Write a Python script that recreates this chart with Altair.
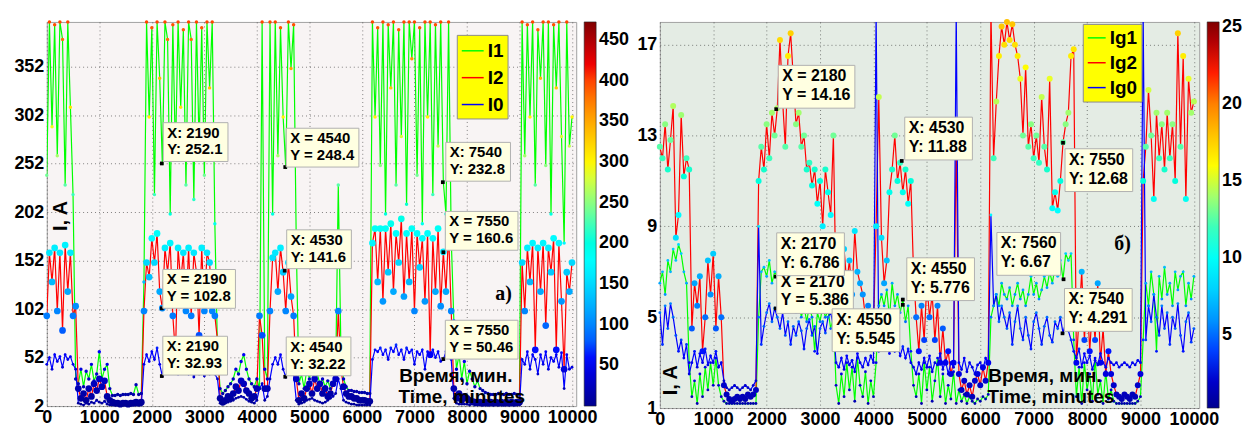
import altair as alt
import pandas as pd

# ---------------- data (time step 50 min) ----------------
MINUTES = list(range(0, 10001, 50))

# panel a)
I1 = [240, 398, 290, 395, 260, 398, 380, 230, 398, 310,
      220, 30, 25, 40, 22, 38, 30, 45, 28, 35,
      58, 30, 40, 45, 20, 13, 13, 14, 13, 14,
      14, 14, 15, 14, 24, 14, 15, 130, 398, 300,
      392, 220, 398, 340, 252, 398, 380, 200, 395, 260,
      398, 310, 390, 230, 398, 380, 215, 398, 270, 392,
      240, 398, 330, 398, 190, 60, 20, 15, 18, 22,
      25, 30, 40, 35, 48, 55, 40, 30, 25, 22,
      30, 20, 398, 40, 30, 398, 200, 398, 260, 392,
      300, 248, 398, 350, 395, 170, 25, 35, 20, 40,
      30, 45, 28, 35, 25, 30, 22, 28, 20, 25,
      35, 230, 60, 30, 22, 18, 18, 17, 17, 16,
      16, 16, 15, 15, 398, 300, 392, 250, 398, 200,
      395, 330, 398, 230, 390, 280, 398, 210, 398, 360,
      398, 240, 392, 190, 398, 300, 398, 220, 395, 270,
      398, 233, 200, 398, 175, 90, 40, 55, 30, 48,
      25, 38, 30, 22, 28, 20, 18, 16, 15, 14,
      14, 14, 15, 14, 14, 15, 14, 14, 15, 14,
      14, 398, 260, 395, 300, 398, 230, 390, 340, 398,
      250, 398, 200, 395, 330, 398, 280, 170, 398, 270,
      300]
I2 = [95, 160, 130, 165, 100, 160, 80, 168, 120, 160,
      95, 105, 20, 10, 15, 8, 20, 12, 25, 18,
      30, 22, 28, 12, 8, 6, 5, 5, 4, 5,
      5, 4, 5, 5, 6, 5, 6, 100, 150, 135,
      175, 150, 180, 120, 103, 165, 140, 170, 95, 55,
      165, 130, 160, 100, 165, 95, 160, 140, 75, 165,
      100, 160, 150, 100, 95, 70, 10, 6, 8, 12,
      10, 15, 22, 18, 28, 25, 18, 15, 10, 12,
      20, 95, 75, 20, 20, 100, 155, 160, 120, 165,
      140, 100, 150, 115, 95, 30, 8, 15, 10, 20,
      25, 15, 30, 20, 25, 15, 20, 12, 15, 25,
      30, 100, 40, 22, 15, 12, 12, 10, 10, 8,
      8, 8, 7, 7, 170, 185, 130, 185, 110, 185,
      140, 190, 120, 180, 150, 195, 115, 180, 130, 185,
      100, 180, 145, 175, 110, 180, 55, 175, 120, 185,
      105, 161, 120, 180, 100, 20, 10, 15, 8, 12,
      10, 8, 7, 6, 6, 6, 5, 6, 5, 6,
      5, 6, 5, 6, 5, 6, 5, 6, 5, 6,
      6, 150, 100, 165, 130, 170, 60, 165, 120, 170,
      85, 165, 140, 175, 60, 170, 110, 40, 140, 120,
      150]
I0 = [45, 52, 40, 55, 48, 53, 42, 55, 50, 53,
      45, 40, 5, 4, 3, 5, 4, 6, 5, 8,
      6, 5, 7, 4, 3, 3, 3, 3, 3, 3,
      3, 3, 3, 3, 3, 3, 3, 45, 55, 48,
      58, 50, 62, 45, 33, 55, 48, 52, 40, 50,
      35, 45, 38, 42, 35, 40, 32, 38, 35, 40,
      33, 38, 35, 40, 35, 30, 5, 4, 5, 6,
      7, 8, 10, 11, 12, 11, 9, 7, 6, 5,
      8, 20, 25, 8, 12, 30, 45, 52, 45, 55,
      40, 32, 45, 38, 35, 8, 4, 5, 6, 8,
      9, 10, 8, 7, 6, 5, 6, 8, 10, 12,
      15, 30, 20, 8, 6, 5, 4, 4, 3, 3,
      3, 3, 3, 3, 50, 60, 58, 62, 55, 60,
      50, 62, 58, 65, 55, 60, 50, 62, 57, 60,
      45, 58, 55, 60, 40, 58, 55, 60, 52, 58,
      48, 50, 58, 55, 50, 10, 5, 4, 4, 4,
      4, 3, 4, 3, 3, 3, 3, 3, 3, 3,
      3, 3, 3, 3, 3, 3, 3, 3, 3, 3,
      3, 50, 45, 58, 40, 55, 50, 35, 55, 45,
      58, 40, 52, 48, 55, 42, 57, 20, 55, 40,
      42]

# panel б)
IG1 = [6.5, 7.0, 6.0, 7.5, 7.0, 8.0, 7.5, 8.2, 7.8, 7.0,
       6.5, 3.0, 1.5, 2.2, 1.2, 2.5, 1.5, 2.8, 1.8, 3.0,
       2.0, 3.2, 2.0, 1.5, 1.3, 1.2, 1.2, 1.2, 1.2, 1.2,
       1.2, 1.2, 1.2, 1.2, 1.2, 1.2, 1.2, 5.0, 7.0, 7.2,
       6.8, 7.5, 6.5, 7.0, 6.8, 6.0, 6.5, 5.8, 6.2, 5.5,
       6.0, 5.2, 5.8, 5.0, 5.5, 4.8, 5.5, 5.0, 3.5, 5.2,
       4.8, 5.5, 5.0, 5.3, 4.5, 5.0, 2.0, 1.2, 2.5, 1.5,
       3.0, 1.8, 2.8, 1.3, 3.2, 2.0, 1.5, 2.6, 1.2, 2.2,
       1.5, 3.0, 5.5, 6.0, 5.5, 6.2, 5.0, 6.5, 5.5, 6.0,
       5.2, 5.8, 4.8, 5.5, 3.5, 2.0, 1.5, 2.5, 1.2, 3.0,
       1.8, 2.8, 1.3, 2.2, 3.2, 1.5, 2.5, 1.2, 2.0, 1.4,
       2.6, 1.2, 1.8, 1.3, 1.6, 1.2, 1.5, 1.3, 1.2, 1.4,
       1.3, 1.5, 1.4, 1.6, 5.0, 5.5, 6.0, 5.5, 6.5, 6.0,
       5.8, 6.3, 5.5, 6.0, 6.5, 5.8, 6.2, 5.5, 6.0, 6.8,
       6.0, 6.5, 5.8, 6.2, 6.8, 6.3, 7.0, 6.5, 7.2, 6.8,
       7.5, 6.67, 7.8, 7.5, 7.8, 4.0, 1.5, 2.8, 1.2, 3.0,
       1.8, 2.5, 1.3, 3.2, 1.6, 2.2, 1.2, 2.6, 1.4, 1.8,
       1.3, 1.2, 1.2, 1.2, 1.2, 1.2, 1.2, 1.2, 1.2, 1.3,
       1.5, 4.0, 6.5, 5.5, 7.0, 6.0, 3.5, 6.8, 5.8, 7.2,
       6.0, 6.5, 5.5, 7.0, 6.2, 6.8, 7.0, 5.5, 6.5, 5.8,
       6.8]
IG2 = [12.5, 12.0, 13.5, 11.5, 12.8, 14.3, 8.5, 9.5, 13.9, 11.2,
       12.0, 11.5, 4.5, 6.5, 5.5, 6.8, 3.5, 5.0, 7.5, 6.0,
       7.8, 4.5, 6.8, 5.0, 2.0, 1.6, 1.4, 1.3, 1.4, 1.5,
       1.4, 1.5, 1.4, 1.6, 1.5, 1.6, 1.8, 11.0, 12.5, 11.5,
       13.5, 12.0, 14.0, 13.0, 14.2, 17.2, 14.5, 12.5, 16.5, 17.5,
       15.5, 13.5, 14.0, 12.5, 13.0, 11.5, 11.8, 10.8, 11.5, 10.0,
       11.0, 9.0, 11.5, 10.5, 9.5, 13.0, 6.0, 7.0, 5.5, 8.0,
       6.5, 7.5, 6.0, 8.8, 7.0, 6.5, 6.0, 5.0, 5.5, 4.5,
       4.5, 9.0, 14.7, 8.5, 6.5, 7.5, 10.5, 11.5, 13.0, 11.0,
       11.8, 10.5, 11.5, 10.0, 11.0, 7.0, 5.0, 3.5, 5.5, 4.0,
       6.5, 5.0, 6.0, 4.0, 5.5, 3.0, 4.5, 3.0, 3.5, 2.5,
       3.0, 13.0, 2.5, 1.8, 2.2, 1.6, 2.0, 1.5, 2.2, 2.5,
       2.0, 2.8, 2.2, 3.0, 18.5, 12.0, 14.5, 16.5, 17.8, 17.0,
       18.0, 17.2, 17.9, 17.0, 16.5, 15.5, 13.0, 16.0, 12.5, 13.5,
       12.0, 13.0, 11.8, 14.7, 12.5, 11.5, 15.5, 9.8, 10.5, 9.7,
       11.0, 12.7, 13.5, 14.0, 16.5, 16.8, 3.0, 5.0, 7.0, 4.0,
       6.0, 3.5, 5.5, 4.0, 6.5, 3.0, 4.5, 2.5, 3.5, 2.5,
       2.0, 1.6, 1.5, 1.4, 1.6, 1.5, 1.4, 1.6, 1.5, 2.0,
       2.5, 11.0, 12.5, 15.0, 13.0, 10.2, 14.0, 12.0, 13.5, 11.5,
       14.0, 12.0, 13.5, 11.0, 17.5, 12.5, 16.5, 10.2, 15.5, 14.0,
       14.5]
IG0 = [5.2, 3.8, 5.5, 4.5, 5.6, 5.0, 4.2, 3.5, 4.0, 3.2,
       3.8, 2.5, 3.0, 3.5, 2.8, 3.4, 3.0, 3.6, 2.9, 3.3,
       3.0, 3.5, 2.8, 3.0, 2.2, 1.9, 1.8, 1.9, 2.0, 1.9,
       1.8, 1.9, 2.0, 1.9, 1.8, 2.0, 2.2, 9.0, 3.8, 4.6,
       5.2, 5.6, 4.8, 5.4, 5.0, 4.5, 5.2, 4.2, 4.8, 3.8,
       4.6, 4.2, 4.8, 4.4, 3.6, 4.5, 4.9, 4.2, 4.6, 3.4,
       4.5, 4.8, 4.3, 5.0, 5.2, 4.6, 3.0, 2.8, 3.2, 2.7,
       3.3, 2.9, 3.1, 2.6, 3.4, 3.0, 2.8, 3.2, 2.9, 3.3,
       3.0, 18.5, 3.5, 4.0, 3.6, 3.9, 3.4, 4.0, 3.5, 3.8,
       3.3, 3.7, 3.2, 3.6, 3.0, 2.8, 2.5, 3.0, 2.7, 3.2,
       2.8, 3.3, 2.6, 3.0, 2.9, 3.4, 2.7, 3.1, 2.5, 3.0,
       2.8, 18.5, 3.0, 2.7, 3.2, 2.6, 3.0, 2.8, 2.5, 2.9,
       3.0, 2.7, 3.2, 3.0, 9.5, 5.5, 6.0, 4.8, 5.5, 5.0,
       4.5, 5.2, 3.8, 4.8, 5.5, 4.5, 4.0, 5.0, 4.2, 3.6,
       4.8, 5.2, 4.5, 3.8, 4.6, 5.0, 4.2, 3.9, 4.8, 4.5,
       5.0, 4.3, 4.8, 4.4, 4.0, 3.5, 3.2, 3.6, 2.8, 3.4,
       3.0, 3.3, 2.7, 3.1, 2.9, 3.4, 3.0, 2.8, 3.2, 3.0,
       2.9, 3.0, 2.8, 2.9, 3.0, 2.9, 2.8, 3.0, 2.9, 3.1,
       3.0, 18.5, 4.0, 5.5, 4.8, 6.0, 5.0, 4.2, 5.5, 4.5,
       5.2, 3.8, 5.0, 4.5, 5.6, 4.2, 3.5, 4.8, 5.2, 3.9,
       4.5]

for arr in (I1, I2, I0, IG1, IG2, IG0):
    assert len(arr) == len(MINUTES), len(arr)

# data tips (X, Y, separator style)
TIPS_A_X = [2190, 4540, 7540, 2190, 4530, 7550, 2190, 4540, 7550]
TIPS_A_Y = [252.1, 248.4, 232.8, 102.8, 141.6, 160.6, 32.93, 32.22, 50.46]
TIPS_A_SEP = [":", "=", ":", "=", ":", "=", ":", ":", "="]
TIPS_B_X = [2180, 4530, 7550, 2170, 2170, 4550, 4550, 7560, 7540]
TIPS_B_Y = [14.16, 11.88, 12.68, 5.386, 6.786, 5.545, 5.776, 6.67, 4.291]
TIPS_B_SEP = ["=", ":", ":", "=", ":", ":", ":", ":", ":"]

# layout of the data-tip boxes: pixel offset of box top-left from the tip point
BOX_A_OFF = [(1.5, -41), (1, -39), (3, -40), (1, -39), (2, -41), (2, -41), (1, -40), (1, -40), (2, -39)]
BOX_B_OFF = [(2, -44), (3, -44), (2, 6), (1, -38), (1, -44), (-71, 4), (4, -42), (-67, -47), (2, -45)]

FONT = "Liberation Sans"
JET = ["#00008f", "#0000ff", "#00ffff", "#ffff00", "#ff0000", "#800000"]
JET_F = [0, 0.125, 0.375, 0.625, 0.875, 1]

CW = {"X": .667, "Y": .667, ":": .333, " ": .278, "=": .584, ".": .278}


def text_w(s, fs):
    return sum(CW.get(c, .556) for c in s) * fs


def panel(names, series, colors, psizes, W, H, xmax, ydom, yticks, bg,
          cdom, cvals, legx, legy, symsize, tips_x, tips_y, tips_sep, offs,
          tfs, box_h, tline, letter, letter_xy, ia_xy, time_xy):
    xs = alt.Scale(domain=[0, xmax], nice=False, zero=False)
    ys = alt.Scale(domain=ydom, nice=False, zero=False)
    xax = alt.Axis(values=list(range(0, 10001, 1000)), title=None, grid=True, format="d")
    yax = alt.Axis(values=yticks, title=None, grid=True, format="d")
    stroke_leg = alt.Legend(
        title=None, orient="none", legendX=legx, legendY=legy,
        fillColor="#ffff00", strokeColor="#8c8c8c", padding=4,
        symbolType="stroke", symbolSize=symsize, symbolStrokeWidth=1.5,
        labelFont=FONT, labelFontWeight="bold", labelFontSize=19,
        labelColor="black", labelOffset=3, rowPadding=5, symbolOpacity=1)
    stroke_enc = alt.Stroke("s:N", scale=alt.Scale(domain=names, range=colors),
                            legend=stroke_leg)
    lo, hi = cdom
    jet = alt.Scale(domain=[lo + f * (hi - lo) for f in JET_F], range=JET, clamp=True)
    fill_leg = alt.Legend(
        title=None, orient="right", direction="vertical", gradientLength=H,
        gradientThickness=12, offset=8, values=cvals, labelFont=FONT,
        labelFontSize=18, labelFontWeight="bold", labelColor="black",
        labelOffset=3, padding=0, gradientStrokeColor="#222",
        gradientStrokeWidth=0.6, labelOverlap=False)

    layers = []
    pts = []
    for n, vals, ps in zip(names, series, psizes):
        d = pd.DataFrame({"t": MINUTES, "v": vals, "s": n})
        layers.append(alt.Chart(d).mark_line(strokeWidth=1.2, clip=True).encode(
            x=alt.X("t:Q", scale=xs, axis=xax),
            y=alt.Y("v:Q", scale=ys, axis=yax),
            stroke=stroke_enc))
        d2 = d.copy()
        d2["sz"] = ps
        pts.append(d2)
    pdf = pd.concat(pts, ignore_index=True)
    pdf = pdf[(pdf.v <= ydom[1]) & (pdf.v >= ydom[0])]
    layers.append(alt.Chart(pdf).mark_circle(opacity=1).encode(
        x=alt.X("t:Q", scale=xs, axis=xax),
        y=alt.Y("v:Q", scale=ys, axis=yax),
        fill=alt.Fill("v:Q", scale=jet, legend=fill_leg),
        size=alt.Size("sz:Q", scale=None)))

    # data tips
    xu = xmax / W
    yu = (ydom[1] - ydom[0]) / H
    rows = []
    for X, Y, sep, (ox, oy) in zip(tips_x, tips_y, tips_sep, offs):
        p = ": " if sep == ":" else " = "
        l1, l2 = f"X{p}{X}", f"Y{p}{Y}"
        bw = round(max(text_w(l1, tfs), text_w(l2, tfs)) + 8)
        rows.append({"t": X, "v": Y, "ax": X + ox * xu, "ay": Y - oy * yu,
                     "label": l1 + "\n" + l2,
                     "path": f"M0,0h{bw}v{box_h}h-{bw}z"})
    tdf = pd.DataFrame(rows)
    layers.append(alt.Chart(tdf).mark_square(size=14, color="black", opacity=1).encode(
        x=alt.X("t:Q", scale=xs, axis=xax), y=alt.Y("v:Q", scale=ys, axis=yax)))
    for i in range(len(tdf)):
        one = tdf.iloc[[i]]
        layers.append(alt.Chart(one).mark_point(
            filled=True, fill="#ffffe1", stroke="#b0b0b0", strokeWidth=1,
            opacity=1, fillOpacity=1, strokeOpacity=1).encode(
            x=alt.X("ax:Q", scale=xs, axis=xax), y=alt.Y("ay:Q", scale=ys, axis=yax),
            shape=alt.Shape("path:N", scale=None), size=alt.value(4)))
        layers.append(alt.Chart(one).mark_text(
            align="left", baseline="top", dx=4, dy=3, font=FONT, fontWeight="bold",
            fontSize=tfs, lineBreak="\n", lineHeight=tline, color="black").encode(
            x=alt.X("ax:Q", scale=xs, axis=xax), y=alt.Y("ay:Q", scale=ys, axis=yax),
            text="label:N"))

    one = pd.DataFrame({"a": [0]})
    layers.append(alt.Chart(one).mark_text(
        font="Liberation Serif", fontWeight="bold", fontSize=20, color="black").encode(
        x=alt.value(letter_xy[0]), y=alt.value(letter_xy[1]), text=alt.value(letter)))
    layers.append(alt.Chart(one).mark_text(
        font=FONT, fontWeight="bold", fontSize=20, angle=270, color="black").encode(
        x=alt.value(ia_xy[0]), y=alt.value(ia_xy[1]), text=alt.value("I, A")))
    layers.append(alt.Chart(one).mark_text(
        font=FONT, fontWeight="bold", fontSize=19, color="black").encode(
        x=alt.value(time_xy[0]), y=alt.value(time_xy[1]), text=alt.value("Время, мин.")))
    layers.append(alt.Chart(one).mark_text(
        font=FONT, fontWeight="bold", fontSize=19, color="black").encode(
        x=alt.value(time_xy[0] + 6), y=alt.value(time_xy[1] + 21),
        text=alt.value("Time, minutes")))

    return alt.layer(*layers).properties(
        width=W, height=H,
        view=alt.ViewBackground(fill=bg, stroke="#a0a0a0", strokeWidth=1))


left = panel(["I1", "I2", "I0"], [I1, I2, I0], ["#00ff00", "#ff0000", "#0000ff"],
             [12, 45, 8], 532, 386, 10080, [2, 398], [2, 52, 102, 152, 202, 252, 302, 352],
             "#f8f4f4", (0, 472), [50, 100, 150, 200, 250, 300, 350, 400, 450],
             412, 13, 484, TIPS_A_X, TIPS_A_Y, TIPS_A_SEP, BOX_A_OFF, 15, 39, 17,
             "а)", (459, 273), (14, 195), (411, 356))

right = panel(["Ig1", "Ig2", "Ig0"], [IG1, IG2, IG0], ["#00ff00", "#ff0000", "#0000ff"],
              [8, 36, 8], 542, 388, 10100, [1, 18], [1, 5, 9, 13, 17],
              "#e4ece4", (0.3, 25.3), [5, 10, 15, 20, 25],
              425, 2, 324, TIPS_B_X, TIPS_B_Y, TIPS_B_SEP, BOX_B_OFF, 16, 43, 19,
              "б)", (465, 223), (11, 360), (387, 356))

chart = alt.hconcat(left, right, spacing=5).resolve_scale(
    x="independent", y="independent", fill="independent", stroke="independent"
).resolve_legend(fill="independent", stroke="independent").properties(
    padding={"left": 13, "top": 17, "right": 0, "bottom": 0},
    background="white"
).configure_axis(
    labelFont=FONT, labelFontWeight="bold", labelFontSize=18, labelColor="black",
    ticks=False, labelPadding=3, domain=False, gridColor="#000000",
    gridDash=[1, 3], gridOpacity=0.6, gridWidth=0.8, labelFlush=False,
    labelOverlap=False
)

chart.save("out.html", embed_options={"renderer": "svg", "actions": False})
